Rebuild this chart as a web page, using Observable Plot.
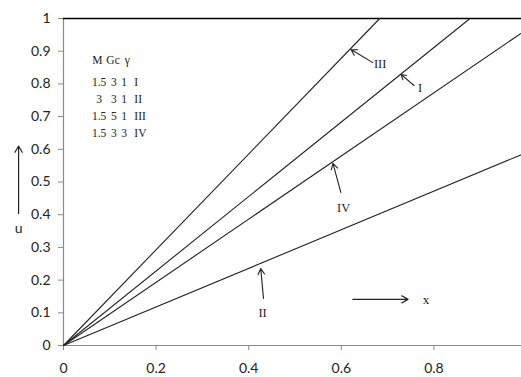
<!DOCTYPE html>
<html><head><meta charset="utf-8">
<script src="https://cdn.jsdelivr.net/npm/d3@7"></script>
<script src="https://cdn.jsdelivr.net/npm/@observablehq/plot@0.6"></script>
<style>body{margin:0;background:#fff} svg{display:block}</style>
</head><body><div id="chart"></div>
<script>
// Curves (straight lines from origin), end points
const curveNames = ["III", "I", "IV", "II"];
const curveX = [[0, 0.683], [0, 0.878], [0, 1], [0, 1]];
const curveY = [[0, 1], [0, 1], [0, 0.966], [0, 0.59]];

// Tick labels (the x = 1 label is cut off in the reference)
const xTicks = [0, 0.2, 0.4, 0.6, 0.8];
const yTicks = [0, 0.1, 0.2, 0.3, 0.4, 0.5, 0.6, 0.7, 0.8, 0.9, 1];

// Parameter legend
const legendHeader = ["M", "Gc", "γ"];
const legendM = ["1.5", "3", "1.5", "1.5"];
const legendGc = ["3", "3", "5", "3"];
const legendGamma = ["1", "1", "1", "3"];
const legendCurve = ["I", "II", "III", "IV"];

// Annotation placement (data coordinates)
const legendHeaderX = [0.073, 0.107, 0.138];
const legendColX = [0.077, 0.109, 0.131, 0.153];
const legendRowY = [0.872, 0.804, 0.752, 0.700, 0.648];
const arrowLabels = ["III", "I", "IV", "II"];
const arrowFrom = [[0.668, 0.865], [0.757, 0.795], [0.599, 0.468], [0.432, 0.144]];
const arrowTo = [[0.621, 0.905], [0.729, 0.829], [0.582, 0.557], [0.426, 0.235]];
const arrowLabelPos = [[0.684, 0.862], [0.770, 0.786], [0.605, 0.422], [0.430, 0.098]];
const axisArrows = [
  {x1: 0.625, y1: 0.141, x2: 0.744, y2: 0.141, label: "x", lx: 0.783, ly: 0.140},
  {x1: -0.097, y1: 0.404, x2: -0.097, y2: 0.61, label: "u", lx: -0.097, ly: 0.358}
];

const lineData = curveNames.flatMap((name, i) =>
  curveX[i].map((x, j) => ({name, x, y: curveY[i][j]})));

const legendTable = [];
legendHeader.forEach((t, c) => legendTable.push({x: legendHeaderX[c], y: legendRowY[0], t}));
legendM.forEach((t, r) => {
  legendTable.push({x: legendColX[0], y: legendRowY[r + 1], t: legendM[r]});
  legendTable.push({x: legendColX[1], y: legendRowY[r + 1], t: legendGc[r]});
  legendTable.push({x: legendColX[2], y: legendRowY[r + 1], t: legendGamma[r]});
});
const legendLabels = legendCurve.map((t, r) => ({x: legendColX[3], y: legendRowY[r + 1], t}));

const arrows = arrowLabels.map((label, i) => ({
  x1: arrowFrom[i][0], y1: arrowFrom[i][1], x2: arrowTo[i][0], y2: arrowTo[i][1],
  label, lx: arrowLabelPos[i][0], ly: arrowLabelPos[i][1]
}));

const axisGray = "#8a8a8a";
const ink = "#222";

const chart = Plot.plot({
  width: 521,
  height: 377,
  marginLeft: 63,
  marginRight: -5,
  marginTop: 18,
  marginBottom: 32,
  x: {domain: [0, 1]},
  y: {domain: [0, 1]},
  style: {fontFamily: "Lato, sans-serif", fontSize: "14px", color: ink, background: "#fff"},
  marks: [
    Plot.ruleX([0], {stroke: axisGray, strokeWidth: 1.2}),
    Plot.ruleY([0], {stroke: axisGray, strokeWidth: 1.2}),
    Plot.axisX({ticks: xTicks, tickSize: 5, tickPadding: 13, stroke: axisGray, fontSize: 14, tickFormat: d => String(d), label: null}),
    Plot.axisY({ticks: yTicks, tickSize: 5, tickPadding: 8, stroke: axisGray, fontSize: 14, tickFormat: d => String(d), label: null}),
    Plot.ruleY([1], {stroke: "#000", strokeWidth: 1.6}),
    Plot.line(lineData, {x: "x", y: "y", z: "name", stroke: ink, strokeWidth: 1.1}),
    Plot.arrow(arrows, {x1: "x1", y1: "y1", x2: "x2", y2: "y2", stroke: ink, strokeWidth: 1.1, headLength: 9}),
    Plot.text(arrows, {x: "lx", y: "ly", text: "label", fontFamily: "Liberation Serif", fontSize: 12.5, fill: ink}),
    Plot.arrow(axisArrows, {x1: "x1", y1: "y1", x2: "x2", y2: "y2", stroke: ink, strokeWidth: 1.2, headLength: 9}),
    Plot.text(axisArrows.slice(0, 1), {x: "lx", y: "ly", text: "label", fontFamily: "Liberation Serif", fontSize: 13, fill: ink}),
    Plot.text(axisArrows.slice(1), {x: "lx", y: "ly", text: "label", fontFamily: "Lato", fontSize: 14, fill: ink}),
    Plot.text(legendTable, {x: "x", y: "y", text: "t", fontFamily: "Liberation Serif", fontSize: 11.5, fill: ink}),
    Plot.text(legendLabels, {x: "x", y: "y", text: "t", textAnchor: "start", fontFamily: "Liberation Serif", fontSize: 11.5, fill: ink})
  ]
});
document.getElementById("chart").appendChild(chart);
</script>
</body></html>
